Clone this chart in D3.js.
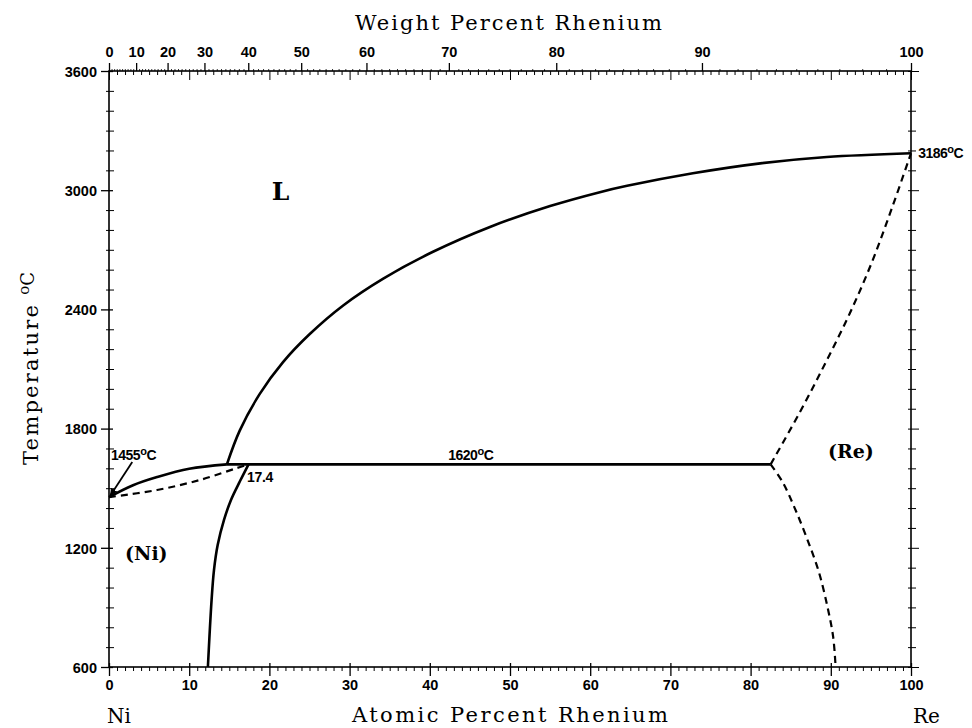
<!DOCTYPE html>
<html><head><meta charset="utf-8">
<script src="https://cdn.jsdelivr.net/npm/d3@7"></script>
<style>
html,body{margin:0;padding:0;background:#fff;}
svg{display:block;}
</style></head>
<body>
<svg id="chart" width="972" height="728"></svg>
<script>
// ---------- data ----------
const atomicTicks = [0,10,20,30,40,50,60,70,80,90,100];
const weightTicks = [0,10,20,30,40,50,60,70,80,90,100];
const tempTicks = [600,1200,1800,2400,3000,3600];

// liquidus, Ni side (solid)
const liqNi = [[0,1455],[3,1515],[6,1556],[10,1598],[14.7,1620]];
// solidus, Ni side (dashed)
const solNi = [[0,1455],[6,1491],[11.3,1541],[16,1602],[17.4,1620]];
// solvus (Ni) solid
const solvNi = [[17.4,1620],[16.34,1536],[15.21,1441],[14.34,1340],[13.55,1214],[13.09,1088],[12.79,937],[12.33,600]];
// liquidus, Re side (solid)
const liqRe = [[14.7,1620],[16.3,1790],[18.8,1975],[21.7,2135],[25.0,2275],[29.2,2420],[34.2,2555],[40.4,2690],[47.5,2815],[55.0,2920],[61.2,2990],[64.6,3022],[72.8,3085],[81.2,3135],[89.5,3167],[100,3186]];
// peritectic line
const peritectic = [[14.7,1620],[82.5,1620]];
// solidus, Re side (dashed)
const solRe = [[82.5,1620],[86.16,1884],[89.4,2136],[92.39,2382],[95.14,2639],[97.63,2911],[100,3186]];
// solvus, Re side (dashed)
const solvRe = [[82.5,1620],[84,1530],[85.5,1400],[87,1250],[88.5,1080],[89.6,900],[90.3,750],[90.6,600]];

const labels = [
  {text:"L", x:20.3, t:2951, cls:"big"},
  {text:"(Re)", x:89.65, t:1652, cls:"phase"},
  {text:"(Ni)", x:2.0, t:1139, cls:"phase"}
];
const tempLabels = [
  {num:"1620", x:42.3, t:1642},
  {num:"1455", x:0.25, t:1642},
  {num:"3186", x:100.9, t:3162}
];
const compLabels = [{text:"17.4", x:17.2, t:1531}];
const arrow = {from:[2.9,1632], to:[0.15,1462]};

// ---------- setup ----------
const svg = d3.select("#chart");
const X0 = 109, X1 = 911, Y0 = 667, Y1 = 71;
const x = d3.scaleLinear().domain([0,100]).range([X0,X1]);
const y = d3.scaleLinear().domain([600,3600]).range([Y0,Y1]);

// weight% -> atomic% (Ni 58.69, Re 186.21)
const MNi = 58.69, MRe = 186.21;
const w2a = w => { const a = (w/MRe); const b = ((100-w)/MNi); return 100*a/(a+b); };

const defs = svg.append("defs");
defs.append("marker").attr("id","ah").attr("viewBox","0 0 10 10").attr("refX",9).attr("refY",5)
  .attr("markerWidth",8).attr("markerHeight",8).attr("orient","auto-start-reverse")
  .attr("markerUnits","userSpaceOnUse")
  .append("path").attr("d","M0,0.5 L10,5 L0,9.5 Z").attr("fill","#000");

const tickFont = "'Liberation Sans', Arial, sans-serif";
const serif = "'DejaVu Serif', 'Liberation Serif', serif";

// ---------- axes ----------
// bottom
const bottomAxis = d3.axisBottom(x).tickValues(atomicTicks).tickSize(9).tickFormat(d3.format("d"));
const gb = svg.append("g").attr("transform",`translate(0,${Y0})`).call(bottomAxis);
gb.select(".domain").remove();
gb.selectAll(".tick line").attr("y1",-4).attr("stroke","#000").attr("stroke-width",1.3);
gb.selectAll(".tick text").attr("y",23).attr("dy",0).attr("font-family",tickFont).attr("font-weight","bold")
  .attr("font-size",14.5).attr("fill","#000");
const bMinor = d3.axisBottom(x).tickValues(d3.range(0,101,1).filter(v=>v%10)).tickSize(4).tickFormat("");
const gbm = svg.append("g").attr("transform",`translate(0,${Y0})`).call(bMinor);
gbm.select(".domain").remove();
gbm.selectAll(".tick line").attr("stroke","#000").attr("stroke-width",1);

// top: weight percent (outside), atomic (inside)
const topAxis = d3.axisTop(x).tickValues(weightTicks.map(w2a)).tickSize(8)
  .tickFormat((d,i)=>weightTicks[i]);
const gt = svg.append("g").attr("transform",`translate(0,${Y1})`).call(topAxis);
gt.select(".domain").remove();
gt.selectAll(".tick line").attr("stroke","#000").attr("stroke-width",1.3);
gt.selectAll(".tick text").attr("y",-14).attr("dy",0).attr("font-family",tickFont).attr("font-weight","bold")
  .attr("font-size",14.5).attr("fill","#000");
const tInner = d3.axisBottom(x).tickValues(d3.range(0,101,1)).tickSize(4).tickFormat("");
const gti = svg.append("g").attr("transform",`translate(0,${Y1})`).call(tInner);
gti.select(".domain").remove();
gti.selectAll(".tick line").attr("stroke","#000").attr("stroke-width",1)
  .attr("y2",d=>d%10===0?9:4);
const tOuterMinor = d3.axisTop(x).tickValues(d3.range(1,100,1).filter(w=>w%10).map(w2a)).tickSize(2).tickFormat("");
const gtm = svg.append("g").attr("transform",`translate(0,${Y1})`).call(tOuterMinor);
gtm.select(".domain").remove();
gtm.selectAll(".tick line").attr("stroke","#000").attr("stroke-width",0.8);

// left
const leftAxis = d3.axisLeft(y).tickValues(tempTicks).tickSize(8).tickFormat(d3.format("d"));
const gl = svg.append("g").attr("transform",`translate(${X0},0)`).call(leftAxis);
gl.select(".domain").remove();
gl.selectAll(".tick line").attr("x1",4).attr("stroke","#000").attr("stroke-width",1.3);
gl.selectAll(".tick text").attr("x",-12).attr("dy","0.36em").attr("font-family",tickFont).attr("font-weight","bold")
  .attr("font-size",14.5).attr("fill","#000");
const lMinor = d3.axisLeft(y).tickValues(d3.range(600,3601,100).filter(v=>v%600)).tickSize(3).tickFormat("");
const glm = svg.append("g").attr("transform",`translate(${X0},0)`).call(lMinor);
glm.select(".domain").remove();
glm.selectAll(".tick line").attr("x1",5).attr("stroke","#000").attr("stroke-width",1);

// right
const rightAxis = d3.axisRight(y).tickValues(d3.range(600,3601,100)).tickSize(5).tickFormat("");
const gr = svg.append("g").attr("transform",`translate(${X1},0)`).call(rightAxis);
gr.select(".domain").remove();
gr.selectAll(".tick line").attr("x1",-3).attr("stroke","#000").attr("stroke-width",1)
  .attr("x2",d=>d%600===0?8:5);

// frame
svg.append("rect").attr("x",X0).attr("y",Y1).attr("width",X1-X0).attr("height",Y0-Y1)
  .attr("fill","none").attr("stroke","#000").attr("stroke-width",1.6);

// ---------- curves ----------
const line = d3.line().x(d=>x(d[0])).y(d=>y(d[1])).curve(d3.curveCatmullRom.alpha(0.5));
const solid = [liqNi, solvNi, liqRe, peritectic];
const dashed = [solNi, solRe, solvRe];
svg.append("g").selectAll("path").data(solid).join("path").attr("d",line)
  .attr("fill","none").attr("stroke","#000").attr("stroke-width",2.6).attr("stroke-linejoin","round");
svg.append("g").selectAll("path").data(dashed).join("path").attr("d",line)
  .attr("fill","none").attr("stroke","#000").attr("stroke-width",2.2).attr("stroke-dasharray","7,5");

// arrow
svg.append("line").attr("x1",x(arrow.from[0])).attr("y1",y(arrow.from[1]))
  .attr("x2",x(arrow.to[0])).attr("y2",y(arrow.to[1]))
  .attr("stroke","#000").attr("stroke-width",1.8).attr("marker-end","url(#ah)");

// ---------- labels ----------
svg.append("g").selectAll("text").data(labels).join("text")
  .attr("x",d=>x(d.x)).attr("y",d=>y(d.t)).text(d=>d.text)
  .attr("font-family",serif).attr("font-weight","bold")
  .attr("font-size",d=>d.cls==="big"?25:19).attr("fill","#000");

const tl = svg.append("g").selectAll("text").data(tempLabels).join("text")
  .attr("x",d=>x(d.x)).attr("y",d=>y(d.t))
  .attr("font-family",tickFont).attr("font-weight","bold").attr("font-size",14)
  .attr("letter-spacing",-0.5).attr("fill","#000");
tl.append("tspan").text(d=>d.num);
tl.append("tspan").attr("dy",-5).attr("font-size",11).text("o");
tl.append("tspan").attr("dy",5).text("C");

svg.append("g").selectAll("text").data(compLabels).join("text")
  .attr("x",d=>x(d.x)).attr("y",d=>y(d.t)).text(d=>d.text)
  .attr("font-family",tickFont).attr("font-weight","bold").attr("font-size",14)
  .attr("letter-spacing",-0.3).attr("fill","#000");

// axis titles
svg.append("text").attr("x",355).attr("y",30).attr("textLength",307).attr("lengthAdjust","spacing")
  .attr("font-family",serif).attr("font-size",21).attr("fill","#000").text("Weight Percent Rhenium");
svg.append("text").attr("x",352).attr("y",722).attr("textLength",316).attr("lengthAdjust","spacing")
  .attr("font-family",serif).attr("font-size",21).attr("fill","#000").text("Atomic Percent Rhenium");
svg.append("text").attr("x",x(0)).attr("y",723).attr("text-anchor","start").attr("dx",-2)
  .attr("font-family",serif).attr("font-size",20).attr("fill","#000").text("Ni");
svg.append("text").attr("x",x(100)+2).attr("y",723).attr("text-anchor","start")
  .attr("font-family",serif).attr("font-size",20).attr("fill","#000").text("Re");

const yt = svg.append("text").attr("transform","translate(38,465) rotate(-90)")
  .attr("font-family",serif).attr("font-size",21).attr("fill","#000");
yt.append("tspan").attr("textLength",160).attr("lengthAdjust","spacing").text("Temperature");
yt.append("tspan").attr("dx",8).attr("dy",-9).attr("font-size",15).text("o");
yt.append("tspan").attr("dy",5).attr("font-size",18).text("C");
</script>
</body></html>
